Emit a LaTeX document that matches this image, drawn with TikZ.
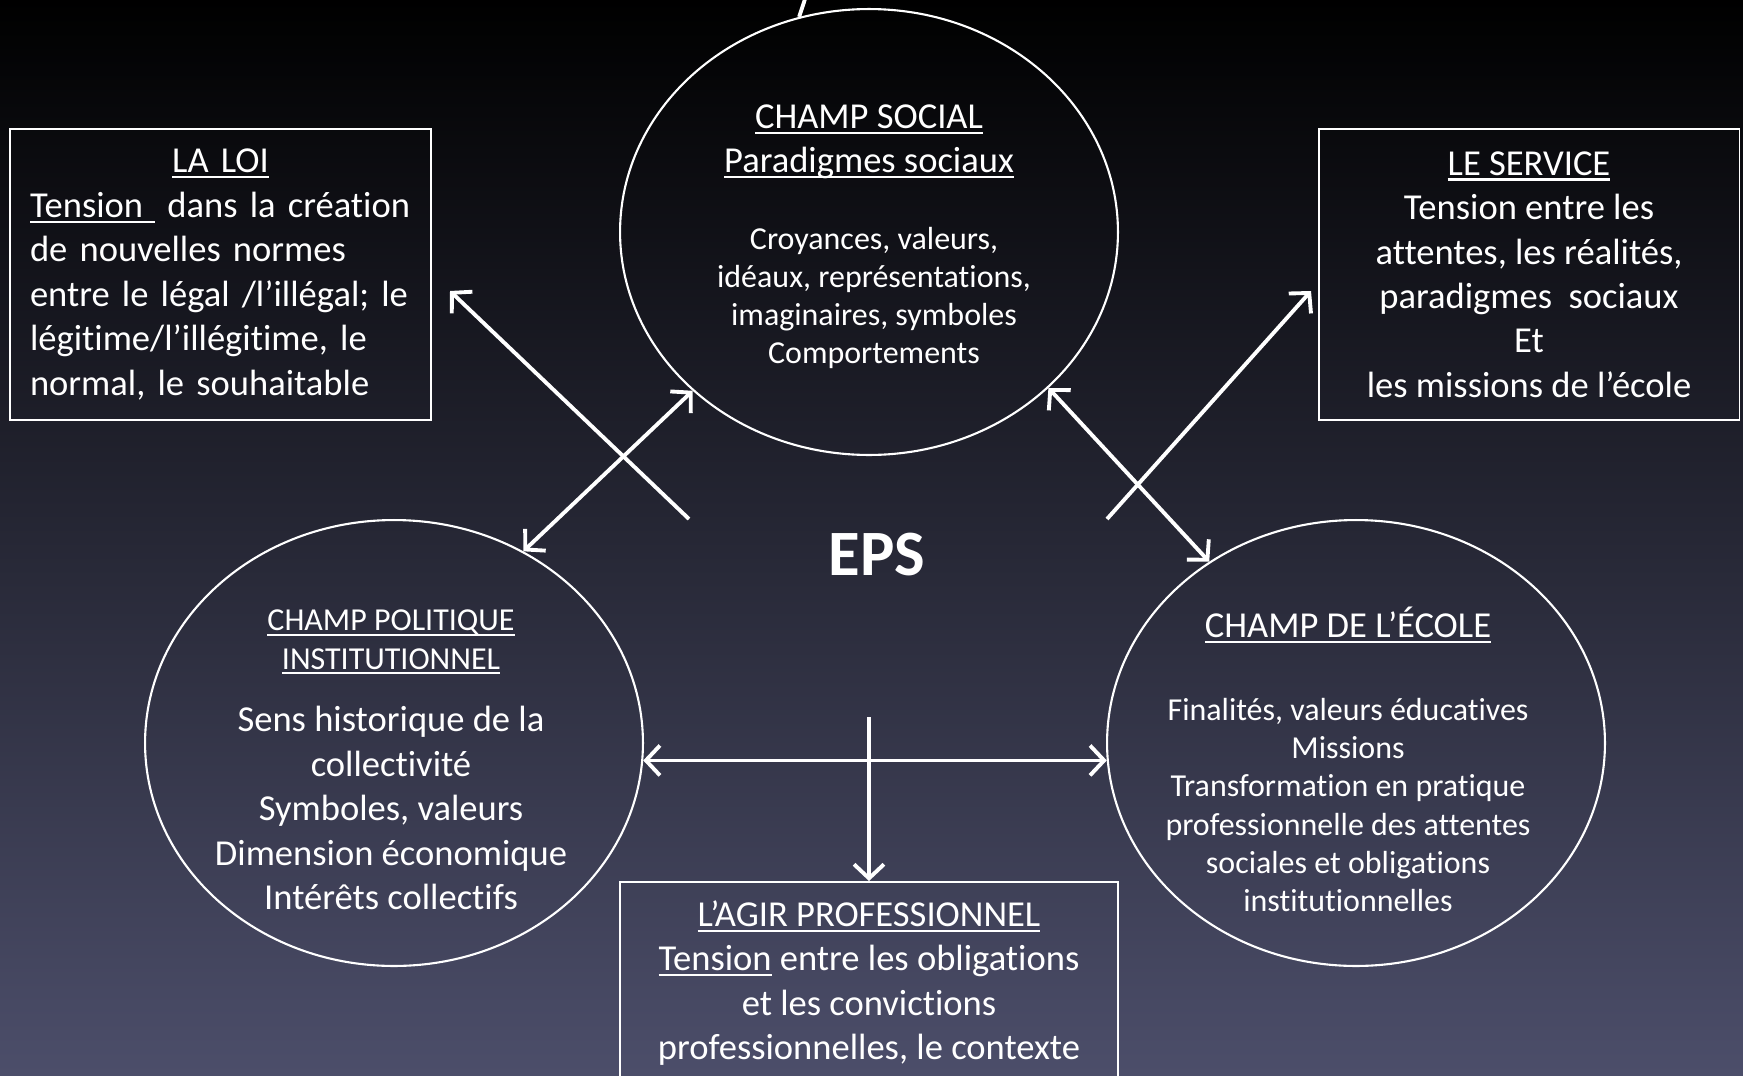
\documentclass[tikz,border=0pt]{standalone}
\usepackage{fontspec}
\setmainfont{Carlito}[Ligatures=NoCommon]
\usetikzlibrary{arrows.meta,positioning,shapes.geometric,calc}
\definecolor{fondbas}{RGB}{76,78,106}
\definecolor{fondmilieu}{RGB}{32,30,54}
\newcommand{\souligne}[1]{\leavevmode\setbox0=\hbox{#1}\rlap{\rule[-0.15em]{\wd0}{0.06em}}\box0\relax}

\begin{document}
\begin{tikzpicture}[
    x=0.02cm, y=-0.02cm,
    every node/.style={text=white},
    champ/.style={ellipse, draw=white, line width=1.2pt,
                  minimum width=9.96cm, minimum height=8.92cm, inner sep=0pt},
    cadre/.style={rectangle, draw=white, line width=1.1pt,
                  minimum width=8.42cm, minimum height=5.82cm},
    grand/.style={align=center, font=\fontsize{20.8}{25.3}\selectfont},
    petit/.style={align=center, font=\fontsize{18.2}{21.7}\selectfont},
    fl/.style={line width=2.2pt, white, -{Straight Barb[length=8pt, width=17pt]}},
    dfl/.style={fl, {Straight Barb[length=8pt, width=17pt]}-{Straight Barb[length=8pt, width=17pt]}},
]
% Fond
\shade[top color=black, middle color=fondmilieu, bottom color=fondbas] (0,0) rectangle (1743,1075);
\useasboundingbox (0,0) rectangle (1743,1075);

% Champs
\node[champ] (social) at (869,232) {};
\node[champ] (pol)    at (394,743) {};
\node[champ] (ecole)  at (1356,743) {};

\node[grand] (socialtitre) at (869,142) {\souligne{CHAMP SOCIAL}\\\souligne{Paradigmes sociaux}};
\node[petit] (socialtxt)   at (874,298) {Croyances, valeurs,\\idéaux, représentations,\\imaginaires, symboles\\Comportements};
\node[petit] (poltitre)    at (391,642) {\souligne{CHAMP POLITIQUE}\\\souligne{INSTITUTIONNEL}};
\node[grand] (poltxt)      at (391,808) {Sens historique de la\\collectivité\\Symboles, valeurs\\Dimension économique\\Intérêts collectifs};
\node[grand] (ecoletitre)  at (1348,625) {\souligne{CHAMP DE L’ÉCOLE}};
\node[petit] (ecoletxt)    at (1348,805) {Finalités, valeurs éducatives\\Missions\\Transformation en pratique\\professionnelle des attentes\\sociales et obligations\\institutionnelles};

% Cadres
\node[cadre, grand, text width=7.62cm, align=left] (loi) at (220.5,274.5)
  {{\centering\souligne{LA LOI}\par}\souligne{Tension\ } dans la création\\de nouvelles normes\\entre le légal /l’illégal; le\\légitime/l’illégitime, le\\normal, le souhaitable};
\node[cadre, grand] (service) at (1529,274.5)
  {\souligne{LE SERVICE}\\Tension entre les\\attentes, les réalités,\\paradigmes~ sociaux\\Et\\les missions de l’école};
\node[cadre, minimum width=9.96cm, minimum height=6cm, anchor=north] (agir) at (869,881) {};
\node[grand] (agirtxt) at (869,983)
  {\souligne{L’AGIR PROFESSIONNEL}\\\souligne{Tension} entre les obligations\\et les convictions\\professionnelles, le contexte};

\node[font=\fontsize{36.8}{40}\selectfont\bfseries] (eps) at (877,555) {EPS};

% Fleches
\coordinate (loidepart)  at (689,519);
\coordinate (loifin)     at (450,291);
\coordinate (servdepart) at (1107,519);
\coordinate (servfin)    at (1311,291);
\coordinate (croix)      at (869,717);
\coordinate (hautfin)    at (806,-4);

\draw[fl]  (loidepart) -- (loifin);
\draw[fl]  (servdepart) -- (servfin);
\draw[dfl] (pol.56) -- (social.222);
\draw[dfl] (social.319) -- (ecole.129);
\draw[dfl] (pol.-4) -- (ecole.184);
\draw[fl]  (croix) -- (agir.north);
\draw[line width=2.2pt, white] (social.108) -- (hautfin);
\end{tikzpicture}
\end{document}
